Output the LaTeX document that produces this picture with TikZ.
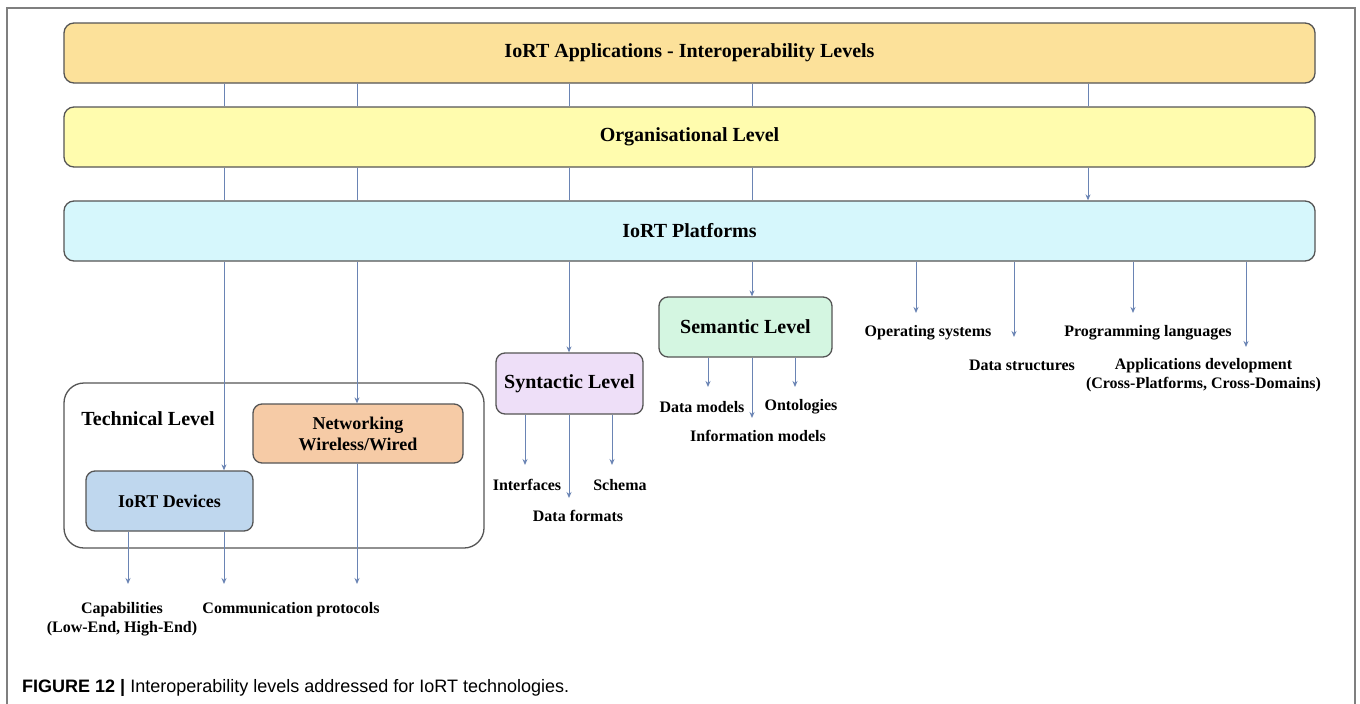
\documentclass[tikz,border=0pt]{standalone}
\usepackage{fontspec}
\setmainfont{Liberation Serif}
\newfontfamily\capfont{Liberation Sans}
\usetikzlibrary{arrows.meta}
\definecolor{bordc}{HTML}{555555}
\definecolor{linec}{HTML}{6A84B4}
\definecolor{topc}{HTML}{FCE19A}
\definecolor{orgc}{HTML}{FFFCAE}
\definecolor{platc}{HTML}{D6F7FC}
\definecolor{semc}{HTML}{D4F6E1}
\definecolor{sync}{HTML}{EEDFF8}
\definecolor{netc}{HTML}{F6CBA6}
\definecolor{devc}{HTML}{BFD7EE}
\definecolor{framec}{HTML}{7F7F7F}
\tikzset{
  bar/.style={draw=bordc, line width=1.3pt, rounded corners=10pt, minimum width=1251pt, minimum height=60pt, inner sep=0pt,
    font=\fontsize{20}{24}\selectfont\bfseries},
  lvl/.style={draw=bordc, line width=1.3pt, rounded corners=9pt, inner sep=0pt, align=center},
  lbl/.style={inner sep=0pt, align=center, font=\fontsize{16}{19}\selectfont\bfseries},
  conn/.style={draw=linec, line width=1pt},
  arr/.style={conn, -{Stealth[length=6pt,width=5pt]}}
}
\begin{document}
\begin{tikzpicture}[x=1pt,y=-1pt]
\useasboundingbox (0,0) rectangle (1360,704);
\fill[white] (0,0) rectangle (1360,704);
\draw[framec, line width=2pt] (7,704) -- (7,8) -- (1355,8) -- (1355,704);

% main bars
\node[bar, fill=topc] (top) at (689.5,53) {IoRT Applications - Interoperability Levels};
\node[bar, fill=orgc] (org) at (689.5,137) {Organisational Level};
\node[bar, fill=platc] (plat) at (689.5,231) {IoRT Platforms};

% technical level group
\node[draw=bordc, line width=1.3pt, rounded corners=20pt, fill=white, minimum width=420pt, minimum height=165pt, inner sep=0pt] (tech) at (274,465.5) {};
\node[inner sep=0pt, font=\fontsize{20}{24}\selectfont\bfseries] (techl) at (148,419) {Technical Level};
\node[lvl, fill=netc, minimum width=210pt, minimum height=59pt, font=\fontsize{18}{21}\selectfont\bfseries] (net) at (358,433.5) {Networking\\Wireless/Wired};
\node[lvl, fill=devc, minimum width=167pt, minimum height=60pt, font=\fontsize{18}{21}\selectfont\bfseries] (dev) at (169.5,501) {IoRT Devices};

% syntactic and semantic
\node[lvl, fill=sync, minimum width=147pt, minimum height=61pt, font=\fontsize{20}{24}\selectfont\bfseries] (syn) at (569.5,383.5) {Syntactic Level};
\node[lvl, fill=semc, minimum width=173pt, minimum height=60pt, font=\fontsize{20}{24}\selectfont\bfseries] (sem) at (745.5,327) {Semantic Level};

% x positions
\coordinate (xa) at (224,0);
\coordinate (xb) at (357,0);
\coordinate (xc) at (569,0);
\coordinate (xd) at (752,0);
\coordinate (xe) at (1088,0);

% bar-to-bar connectors
\foreach \c in {xa,xb,xc,xd,xe}{
  \draw[conn] (top.south -| \c) -- (org.north -| \c);
}
\foreach \c in {xa,xb,xc,xd}{
  \draw[conn] (org.south -| \c) -- (plat.north -| \c);
}
\draw[arr] (org.south -| xe) -- (plat.north -| xe);

% platforms to levels
\draw[arr] (plat.south -| xa) -- (dev.north -| xa);
\draw[arr] (plat.south -| xb) -- (net.north -| xb);
\draw[arr] (plat.south -| xc) -- (syn.north -| xc);
\draw[arr] (plat.south -| xd) -- (sem.north -| xd);

% labels
\node[lbl] (os) at (928,333) {Operating systems};
\node[lbl] (pl) at (1148,333) {Programming languages};
\node[lbl] (ds) at (1022,365) {Data structures};
\node[lbl] (ad) at (1203.5,375) {Applications development\\(Cross-Platforms, Cross-Domains)};
\node[lbl] (intf) at (527,485) {Interfaces};
\node[lbl] (sch) at (620,485) {Schema};
\node[lbl] (dfm) at (578,516) {Data formats};
\node[lbl] (dm) at (702,407) {Data models};
\node[lbl] (ont) at (801,407) {Ontologies};
\node[lbl] (im) at (758,436) {Information models};
\node[lbl] (capab) at (122,619.5) {Capabilities\\(Low-End, High-End)};
\node[lbl] (comm) at (291,610) {Communication protocols};

% tips
\coordinate (tos) at (916,313);
\coordinate (tds) at (1014,337);
\coordinate (tpl) at (1133,313);
\coordinate (tad) at (1246,347);
\draw[arr] (plat.south -| tos) -- (tos);
\draw[arr] (plat.south -| tds) -- (tds);
\draw[arr] (plat.south -| tpl) -- (tpl);
\draw[arr] (plat.south -| tad) -- (tad);

\coordinate (tif) at (525,465);
\coordinate (tdf) at (569,498);
\coordinate (tsc) at (612,465);
\draw[arr] (syn.south -| tif) -- (tif);
\draw[arr] (syn.south -| tdf) -- (tdf);
\draw[arr] (syn.south -| tsc) -- (tsc);

\coordinate (tdm) at (708,387);
\coordinate (tim) at (752,418);
\coordinate (ton) at (795,387);
\draw[arr] (sem.south -| tdm) -- (tdm);
\draw[arr] (sem.south -| tim) -- (tim);
\draw[arr] (sem.south -| ton) -- (ton);

\coordinate (tcap) at (128,584);
\coordinate (tcom) at (224,584);
\coordinate (tnet) at (357,584);
\draw[arr] (dev.south -| tcap) -- (tcap);
\draw[arr] (dev.south -| tcom) -- (tcom);
\draw[arr] (net.south -| tnet) -- (tnet);

% caption
\node[anchor=base west, inner sep=0pt, font=\capfont\fontsize{18}{22}\selectfont] (caption) at (22,692) {\textbf{FIGURE 12 |} Interoperability levels addressed for IoRT technologies.};
\end{tikzpicture}
\end{document}
